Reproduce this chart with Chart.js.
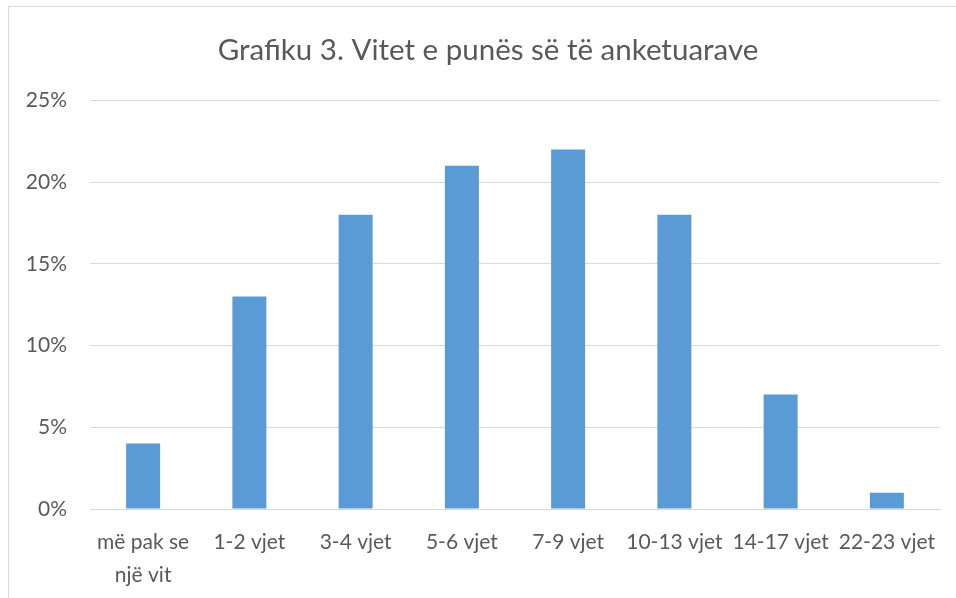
<!DOCTYPE html>
<html><head><meta charset="utf-8">
<script src="https://cdn.jsdelivr.net/npm/chart.js@4/dist/chart.umd.min.js"></script>
<style>
html,body{margin:0;padding:0;background:#fff;overflow:hidden}
#frame{position:absolute;left:8px;top:6px;width:1000px;height:700px;border:1px solid #d9d9d9;box-sizing:border-box}
#wrap{position:absolute;left:0;top:0;width:956px;height:598px}
</style></head>
<body>
<div id="frame"></div>
<div id="wrap"><canvas id="c" width="956" height="598"></canvas></div>
<script>
const categories = [["më pak se","një vit"],"1-2 vjet","3-4 vjet","5-6 vjet","7-9 vjet","10-13 vjet","14-17 vjet","22-23 vjet"];
const values = [4,13,18,21,22,18,7,1];
const titleText = "Grafiku 3. Vitet e punës së të anketuarave";
const FONT = "Lato, 'Open Sans', sans-serif";
const shiftTitle = {
  id: 'shiftTitle',
  afterLayout(chart) { if (chart.titleBlock) { chart.titleBlock.left += 36; } }
};
new Chart(document.getElementById('c'), {
  type: 'bar',
  data: { labels: categories, datasets: [{ data: values, backgroundColor: '#5b9bd5', barPercentage: 0.32, categoryPercentage: 1 }] },
  plugins: [shiftTitle],
  options: {
    responsive: false, animation: false,
    layout: { padding: { left: 0, right: 16, top: 33, bottom: 0 } },
    plugins: {
      legend: { display: false }, tooltip: { enabled: false },
      title: { display: true, text: titleText, color: '#595959', font: { family: FONT, size: 29.5, weight: 'normal', lineHeight: 1.2 }, padding: { top: 0, bottom: 32 } }
    },
    scales: {
      y: {
        min: 0, max: 25,
        afterFit: s => { s.width = 90; },
        ticks: { stepSize: 5, padding: 23, color: '#595959', font: { family: FONT, size: 21 }, callback: v => v + '%' },
        grid: { color: '#d9d9d9', drawTicks: false },
        border: { display: false }
      },
      x: {
        afterFit: s => { s.height = 89; },
        ticks: { color: '#595959', font: { family: FONT, size: 21, lineHeight: 1.6 }, padding: 16, maxRotation: 0, autoSkip: false },
        grid: { display: false, drawTicks: false },
        border: { display: true, color: '#d9d9d9' }
      }
    }
  }
});
</script>
</body></html>
